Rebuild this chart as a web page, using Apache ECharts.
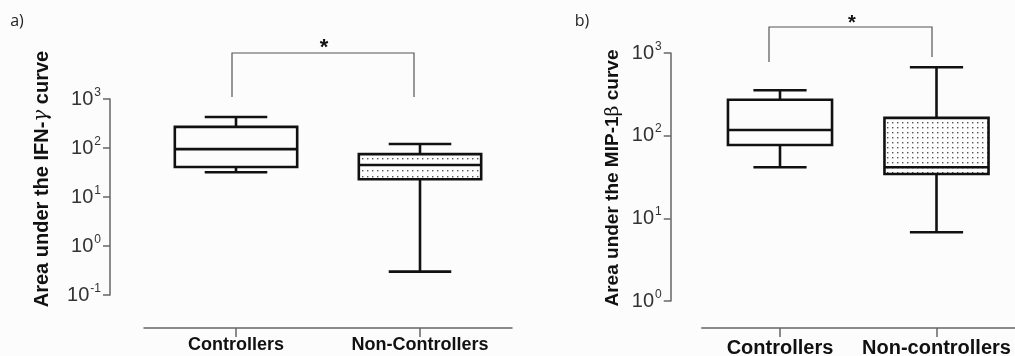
<!DOCTYPE html>
<html><head><meta charset="utf-8">
<script src="https://cdn.jsdelivr.net/npm/echarts@6/dist/echarts.min.js"></script>
<style>html,body{margin:0;padding:0;background:#fcfcfc}#c{width:1015px;height:356px}</style>
</head><body><div id="c"></div>
<script>
// ---- data ----
const categoriesA = ['Controllers', 'Non-Controllers'];
const categoriesB = ['Controllers', 'Non-controllers'];
// [lower whisker, Q1, median, Q3, upper whisker]
const ifnControllers = [32, 41, 95, 270, 430];
const ifnNonControllers = [0.3, 23, 45, 75, 121];
const mipControllers = [41.5, 77, 117, 272, 354];
const mipNonControllers = [6.8, 34.4, 41.5, 164, 671];
const yTicksA = [0.1, 1, 10, 100, 1000];
const yTicksB = [1, 10, 100, 1000];
const titleA = 'Area under the IFN-{g|γ} curve';
const titleB = 'Area under the MIP-1{g|β} curve';

// ---- styling helpers ----
function makePattern(w, h) {
  const c = document.createElement('canvas'); c.width = w; c.height = h;
  const g = c.getContext('2d');
  g.fillStyle = '#fcfcfc'; g.fillRect(0, 0, w, h);
  g.fillStyle = '#555'; g.fillRect(2, 2, 1.4, 1.4);
  return {type: 'pattern', image: c, repeat: 'repeat'};
}
const patA = makePattern(5, 6);
const patB = makePattern(5, 5);

function boxRenderer(pattern) {
  return function (params, api) {
    const idx = api.value(0);
    const lo = api.coord([idx, api.value(1)]);
    const q1 = api.coord([idx, api.value(2)]);
    const md = api.coord([idx, api.value(3)]);
    const q3 = api.coord([idx, api.value(4)]);
    const hi = api.coord([idx, api.value(5)]);
    const band = api.size([1, 1])[0];
    const bw = band * 0.665, cw = band * 0.34;
    const x = lo[0];
    const lw = 2.6;
    const dotted = api.value(6) === 1;
    const ls = {stroke: '#111', lineWidth: lw, fill: null};
    return {type: 'group', children: [
      {type: 'line', shape: {x1: x, y1: hi[1], x2: x, y2: q3[1]}, style: ls},
      {type: 'line', shape: {x1: x, y1: q1[1], x2: x, y2: lo[1]}, style: ls},
      {type: 'line', shape: {x1: x - cw / 2, y1: hi[1], x2: x + cw / 2, y2: hi[1]}, style: ls},
      {type: 'line', shape: {x1: x - cw / 2, y1: lo[1], x2: x + cw / 2, y2: lo[1]}, style: ls},
      {type: 'rect', shape: {x: x - bw / 2, y: q3[1], width: bw, height: q1[1] - q3[1]},
        style: {stroke: '#111', lineWidth: lw, fill: dotted ? pattern : 'rgba(0,0,0,0)'}},
      {type: 'line', shape: {x1: x - bw / 2, y1: md[1], x2: x + bw / 2, y2: md[1]}, style: ls}
    ]};
  };
}

const axisCol = '#666';
function powLabel(v) {
  const e = Math.round(Math.log10(v));
  return '{b|10}{s|' + e + '}';
}
function yAxisCfg(grid, ticks, offset, fs) {
  return {
    gridIndex: grid, type: 'log', logBase: 10,
    min: ticks[0], max: ticks[ticks.length - 1],
    position: 'left', offset: offset,
    splitLine: {show: false}, minorTick: {show: false},
    axisLine: {show: true, lineStyle: {color: axisCol, width: 1.5}},
    axisTick: {show: true, length: 7, lineStyle: {color: axisCol, width: 1.5}},
    axisLabel: {
      margin: 9, formatter: powLabel, fontSize: fs, fontFamily: 'Arial', color: '#333',
      rich: {
        b: {fontSize: fs, color: '#333', fontFamily: 'Arial'},
        s: {fontSize: 12, color: '#333', fontFamily: 'Arial', padding: [0, 0, 13, 1]}
      }
    }
  };
}
function xAxisCfg(grid, cats, offset, fs, margin) {
  return {
    gridIndex: grid, type: 'category', data: cats, offset: offset,
    axisLine: {show: true, lineStyle: {color: axisCol, width: 1.5}},
    axisTick: {show: true, alignWithLabel: true, length: 9, lineStyle: {color: axisCol, width: 1.5}},
    axisLabel: {interval: 0, hideOverlap: false, fontWeight: 'bold', fontSize: fs, color: '#111', margin: margin, fontFamily: 'Liberation Sans'},
    splitLine: {show: false}
  };
}

const chart = echarts.init(document.getElementById('c'), null, {renderer: 'canvas'});
const option = {
  backgroundColor: '#fcfcfc',
  animation: false,
  grid: [
    {left: 144, top: 99, width: 368, height: 196, outerBoundsMode: 'none', containLabel: false},
    {left: 701.75, top: 53, width: 313, height: 248, outerBoundsMode: 'none', containLabel: false}
  ],
  xAxis: [xAxisCfg(0, categoriesA, 33, 18, 8), xAxisCfg(1, categoriesB, 27, 20, 10)],
  yAxis: [yAxisCfg(0, yTicksA, 34, 20), yAxisCfg(1, yTicksB, 31, 20)],
  series: [
    {type: 'custom', xAxisIndex: 0, yAxisIndex: 0, renderItem: boxRenderer(patA),
      encode: {x: 0, y: [1, 2, 3, 4, 5]},
      data: [[0].concat(ifnControllers, [0]), [1].concat(ifnNonControllers, [1])]},
    {type: 'custom', xAxisIndex: 1, yAxisIndex: 1, renderItem: boxRenderer(patB),
      encode: {x: 0, y: [1, 2, 3, 4, 5]},
      data: [[0].concat(mipControllers, [0]), [1].concat(mipNonControllers, [1])]}
  ],
  graphic: [
    {type: 'text', x: 17, y: 21, style: {text: 'a)', font: '16px "Open Sans"', fill: '#222', align: 'center', verticalAlign: 'middle'}},
    {type: 'text', x: 582, y: 21, style: {text: 'b)', font: '16px "Open Sans"', fill: '#222', align: 'center', verticalAlign: 'middle'}},
    {type: 'text', x: 42, y: 179, rotation: Math.PI / 2,
      style: {text: titleA, font: 'bold 20px "Liberation Sans"', fill: '#111', align: 'center', verticalAlign: 'middle',
        rich: {g: {fontFamily: 'DejaVu Serif', fontStyle: 'italic', fontWeight: 'normal', fontSize: 20, fill: '#111'}}}},
    {type: 'text', x: 613, y: 178, rotation: Math.PI / 2,
      style: {text: titleB, font: 'bold 19px "Liberation Sans"', fill: '#111', align: 'center', verticalAlign: 'middle',
        rich: {g: {fontFamily: 'DejaVu Serif', fontWeight: 'normal', fontSize: 19, fill: '#111'}}}},
    {type: 'polyline', shape: {points: [[232, 97], [232, 53], [414, 53], [414, 97]]}, style: {stroke: '#555', lineWidth: 1.2, fill: null}},
    {type: 'polyline', shape: {points: [[769, 62], [769, 27], [932, 27], [932, 57]]}, style: {stroke: '#555', lineWidth: 1.2, fill: null}},
    {type: 'text', x: 324, y: 48, style: {text: '*', font: 'bold 22px "Liberation Sans"', fill: '#111', align: 'center', verticalAlign: 'middle'}},
    {type: 'text', x: 852, y: 23, style: {text: '*', font: 'bold 20px "Liberation Sans"', fill: '#111', align: 'center', verticalAlign: 'middle'}}
  ]
};
chart.setOption(option);
</script>
</body></html>
